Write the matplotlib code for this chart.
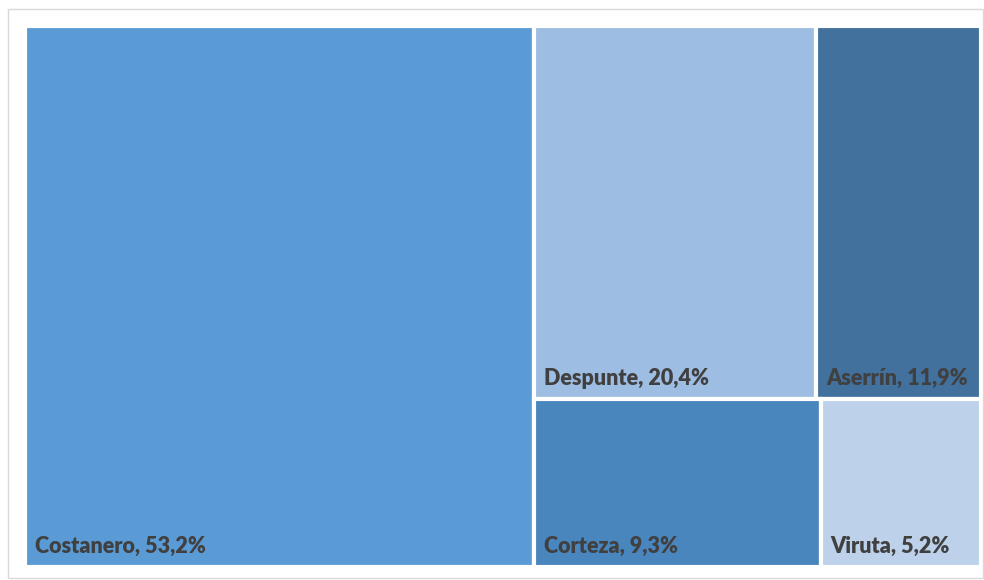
import matplotlib.pyplot as plt
from matplotlib.patches import Rectangle

# datos
categorias = ["Costanero", "Despunte", "Aserrín", "Corteza", "Viruta"]
porcentajes = [53.2, 20.4, 11.9, 9.3, 5.2]
colores = ["#5B9BD5", "#9DBDE2", "#41719C", "#4A86BE", "#BDD1EB"]

# grupos del treemap: columna izquierda, luego dos filas a la derecha
grupos = [[0], [1, 2], [3, 4]]

plt.rcParams["font.family"] = ["Lato", "DejaVu Sans"]

fig = plt.figure(figsize=(9.84, 5.80), dpi=100)
fig.patches.append(Rectangle((8 / 984, 1 - 578 / 580), 975 / 984, 569 / 580,
                             transform=fig.transFigure, fill=False,
                             edgecolor="#D9D9D9", linewidth=1))

ax = fig.add_axes([25 / 984, 1 - 567 / 580, 956 / 984, 541 / 580])
ax.set_xlim(0, 1)
ax.set_ylim(0, 1)
ax.axis("off")

total = sum(porcentajes)


def dibujar(i, x, y, w, h):
    ax.add_patch(Rectangle((x, y), w, h, facecolor=colores[i],
                           edgecolor="white", linewidth=3))
    ax.text(x + 10 / 956, y + 10 / 541,
            f"{categorias[i]}, {porcentajes[i]:.1f}%".replace(".", ","),
            fontsize=15.5, fontweight="heavy", color="#404040",
            ha="left", va="bottom")


# columna izquierda
w0 = porcentajes[0] / total
dibujar(0, 0, 0, w0, 1)

# filas de la derecha
resto = total - porcentajes[0]
y_top = 1
for fila in grupos[1:]:
    suma_fila = sum(porcentajes[i] for i in fila)
    h = suma_fila / resto
    x = w0
    for i in fila:
        w = (1 - w0) * porcentajes[i] / suma_fila
        dibujar(i, x, y_top - h, w, h)
        x += w
    y_top -= h

fig.savefig("out.png", dpi=100)
